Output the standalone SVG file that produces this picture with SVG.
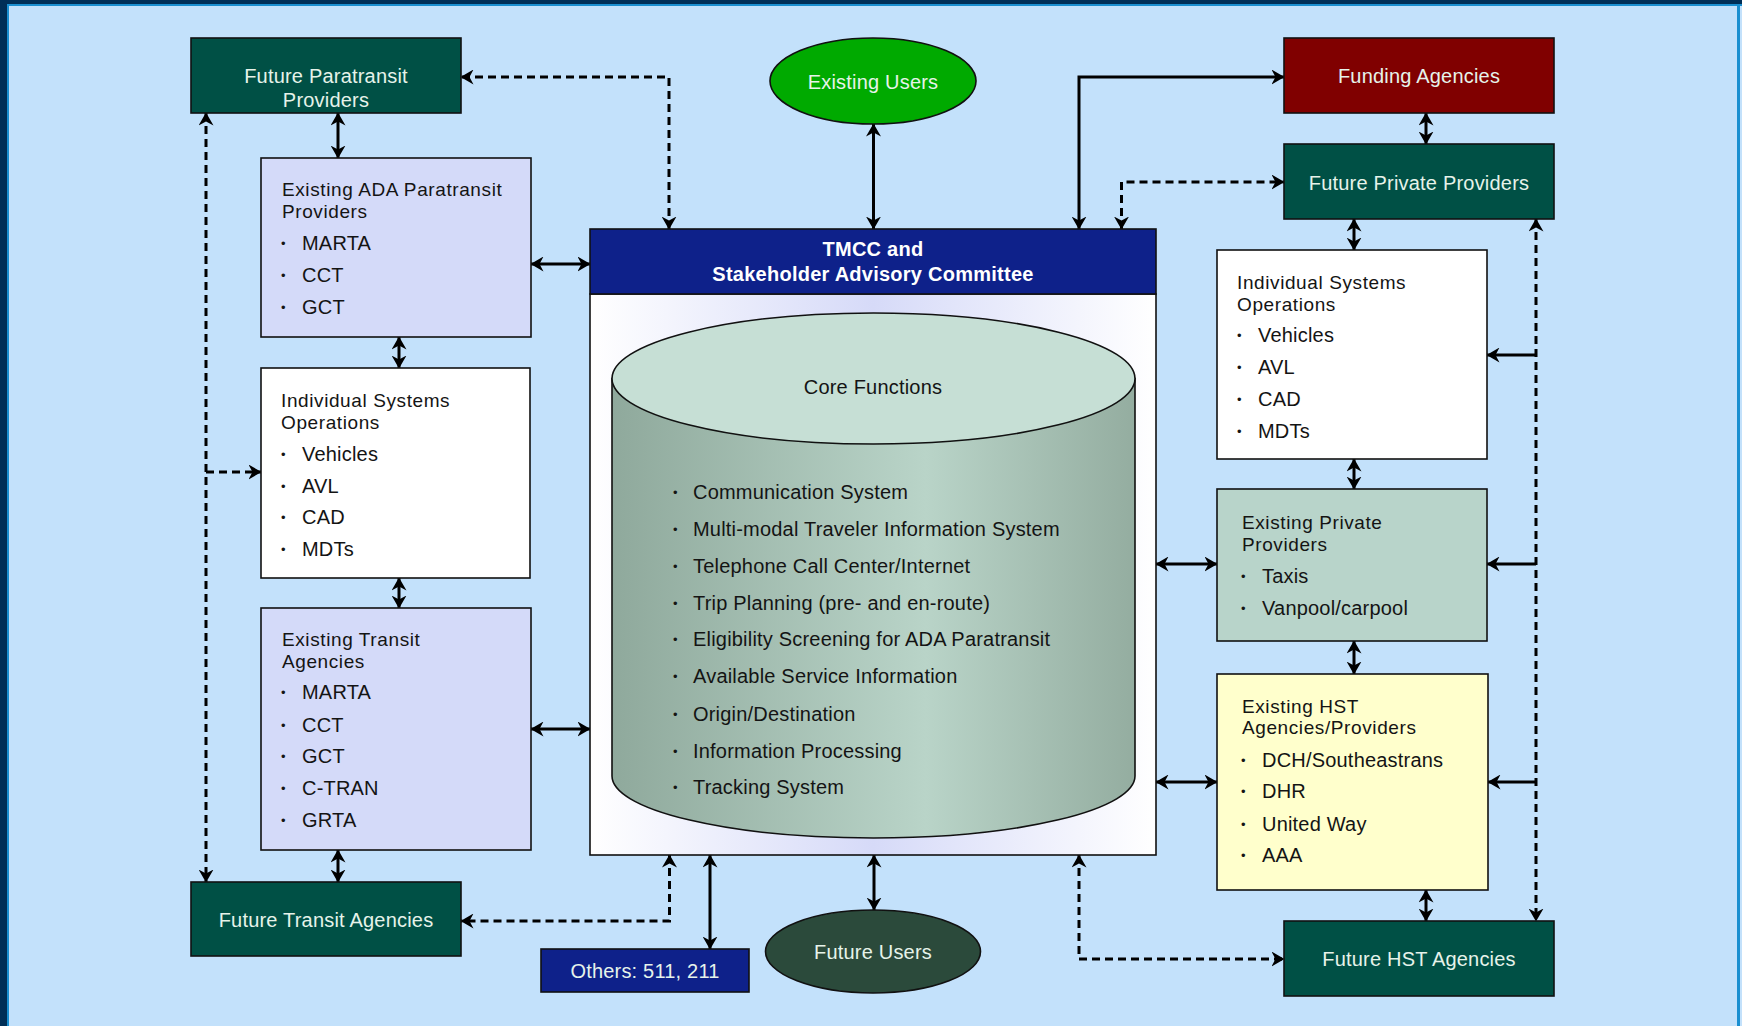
<svg xmlns="http://www.w3.org/2000/svg" width="1742" height="1026" viewBox="0 0 1742 1026">
<defs>
<style>
text{font-family:"Liberation Sans",Arial,sans-serif;font-size:20px;letter-spacing:0.2px;}
.lt{fill:#E6F3EA;text-anchor:middle;}
.dk{fill:#141414;}
.ttl{font-size:19px;letter-spacing:0.6px;}
.b{font-size:13px;}
.hd{fill:#FFFFFF;font-weight:bold;text-anchor:middle;letter-spacing:0.25px;}
.bx{stroke:#111;stroke-width:1.6;}
.c{fill:none;stroke:#000;stroke-width:3;marker-start:url(#ah);marker-end:url(#ah);}
.d{stroke-dasharray:8 5;}
.e{fill:none;stroke:#000;stroke-width:3;marker-end:url(#ah);}
</style>
<marker id="ah" viewBox="0 0 13 15" refX="12.5" refY="7.5" markerWidth="13" markerHeight="15" markerUnits="userSpaceOnUse" orient="auto-start-reverse">
<path d="M0,0 L13,7.5 L0,15 L4,7.5 Z" fill="#000"/>
</marker>
<linearGradient id="wg" x1="0" y1="0" x2="1" y2="0">
<stop offset="0" stop-color="#FFFFFF"/><stop offset="0.5" stop-color="#D6DAF8"/><stop offset="1" stop-color="#FFFFFF"/>
</linearGradient>
<linearGradient id="cg" x1="0" y1="0" x2="1" y2="0">
<stop offset="0" stop-color="#8FA99C"/><stop offset="0.6" stop-color="#B9D4C8"/><stop offset="1" stop-color="#94ADA0"/>
</linearGradient>
</defs>
<rect x="0" y="0" width="1742" height="1026" fill="#C3E1FB"/>
<rect x="0" y="0" width="7" height="1026" fill="#002F57"/>
<rect x="0" y="0" width="1742" height="4" fill="#002F57"/>
<rect x="7" y="4" width="2" height="1022" fill="#1A8FD0"/>
<rect x="7" y="4" width="1735" height="2" fill="#1A8FD0"/>
<rect x="1737" y="4" width="3" height="1022" fill="#1A8FD0"/>

<g id="connectors">
<line class="c" x1="338" y1="113" x2="338" y2="158"/>
<line class="c" x1="399" y1="337" x2="399" y2="368"/>
<line class="c" x1="399" y1="578" x2="399" y2="608"/>
<line class="c" x1="338" y1="850" x2="338" y2="882"/>
<line class="c" x1="531" y1="264" x2="590" y2="264"/>
<line class="c" x1="531" y1="729" x2="590" y2="729"/>
<line class="c d" x1="206" y1="113" x2="206" y2="882"/>
<path class="e d" d="M206,472 H261"/>
<path class="c d" d="M669,229 V77 H461"/>
<line class="c" x1="873.5" y1="124" x2="873.5" y2="229"/>
<path class="c" d="M1079,229 V77 H1284"/>
<path class="c d" d="M1121.5,229 V182 H1284"/>
<line class="c" x1="1426" y1="113" x2="1426" y2="144"/>
<line class="c" x1="1354" y1="219" x2="1354" y2="250"/>
<line class="c" x1="1354" y1="459" x2="1354" y2="489"/>
<line class="c" x1="1354" y1="641" x2="1354" y2="674"/>
<line class="c" x1="1426" y1="890" x2="1426" y2="921"/>
<line class="c d" x1="1536" y1="219" x2="1536" y2="921"/>
<path class="e" d="M1536,355 H1487"/>
<path class="e" d="M1536,564 H1487"/>
<path class="e" d="M1536,782 H1488"/>
<line class="c" x1="1156" y1="564" x2="1217" y2="564"/>
<line class="c" x1="1156" y1="782" x2="1217" y2="782"/>
<path class="c d" d="M669.5,855 V921 H461"/>
<line class="c" x1="710" y1="855" x2="710" y2="949"/>
<line class="c" x1="874" y1="855" x2="874" y2="910"/>
<path class="c d" d="M1079,855 V959 H1284"/>
</g>

<g id="future-paratransit">
<rect class="bx" x="191" y="38" width="270" height="75" fill="#005045"/>
<text class="lt" x="326" y="83">Future Paratransit</text>
<text class="lt" x="326" y="107">Providers</text>
</g>

<g id="existing-ada">
<rect class="bx" x="261" y="158" width="270" height="179" fill="#D4DAF9"/>
<text class="dk ttl" x="282" y="196">Existing ADA Paratransit</text>
<text class="dk ttl" x="282" y="218">Providers</text>
<text class="dk b" x="281" y="248">•</text><text class="dk" x="302" y="250">MARTA</text>
<text class="dk b" x="281" y="280">•</text><text class="dk" x="302" y="282">CCT</text>
<text class="dk b" x="281" y="312">•</text><text class="dk" x="302" y="314">GCT</text>
</g>

<g id="iso-left">
<rect class="bx" x="261" y="368" width="269" height="210" fill="#FFFFFF"/>
<text class="dk ttl" x="281" y="407">Individual Systems</text>
<text class="dk ttl" x="281" y="429">Operations</text>
<text class="dk b" x="281" y="459">•</text><text class="dk" x="302" y="461">Vehicles</text>
<text class="dk b" x="281" y="491">•</text><text class="dk" x="302" y="493">AVL</text>
<text class="dk b" x="281" y="522">•</text><text class="dk" x="302" y="524">CAD</text>
<text class="dk b" x="281" y="554">•</text><text class="dk" x="302" y="556">MDTs</text>
</g>

<g id="existing-transit">
<rect class="bx" x="261" y="608" width="270" height="242" fill="#D4DAF9"/>
<text class="dk ttl" x="282" y="646">Existing Transit</text>
<text class="dk ttl" x="282" y="668">Agencies</text>
<text class="dk b" x="281" y="697">•</text><text class="dk" x="302" y="699">MARTA</text>
<text class="dk b" x="281" y="730">•</text><text class="dk" x="302" y="732">CCT</text>
<text class="dk b" x="281" y="761">•</text><text class="dk" x="302" y="763">GCT</text>
<text class="dk b" x="281" y="793">•</text><text class="dk" x="302" y="795">C-TRAN</text>
<text class="dk b" x="281" y="825">•</text><text class="dk" x="302" y="827">GRTA</text>
</g>

<g id="future-transit">
<rect class="bx" x="191" y="882" width="270" height="74" fill="#005045"/>
<text class="lt" x="326" y="927">Future Transit Agencies</text>
</g>

<g id="existing-users">
<ellipse class="bx" cx="873" cy="81" rx="103" ry="43" fill="#00AA00"/>
<text class="lt" x="873" y="89" fill="#F0FFF0">Existing Users</text>
</g>

<g id="tmcc">
<rect class="bx" x="590" y="294" width="566" height="561" fill="url(#wg)"/>
<rect class="bx" x="590" y="229" width="566" height="65" fill="#0E218A"/>
<text class="hd" x="873" y="256">TMCC and</text>
<text class="hd" x="873" y="281">Stakeholder Advisory Committee</text>
</g>

<g id="core-functions">
<path class="bx" d="M612,378.5 L612,776 A261.5,62 0 0 0 1135,776 L1135,378.5 Z" fill="url(#cg)"/>
<ellipse class="bx" cx="873.5" cy="378.5" rx="261.5" ry="65.5" fill="#C6DFD5"/>
<text class="dk" x="873" y="394" text-anchor="middle">Core Functions</text>
<text class="dk b" x="673" y="497">•</text><text class="dk" x="693" y="499">Communication System</text>
<text class="dk b" x="673" y="534">•</text><text class="dk" x="693" y="536">Multi-modal Traveler Information System</text>
<text class="dk b" x="673" y="571">•</text><text class="dk" x="693" y="573">Telephone Call Center/Internet</text>
<text class="dk b" x="673" y="608">•</text><text class="dk" x="693" y="610">Trip Planning (pre- and en-route)</text>
<text class="dk b" x="673" y="644">•</text><text class="dk" x="693" y="646">Eligibility Screening for ADA Paratransit</text>
<text class="dk b" x="673" y="681">•</text><text class="dk" x="693" y="683">Available Service Information</text>
<text class="dk b" x="673" y="719">•</text><text class="dk" x="693" y="721">Origin/Destination</text>
<text class="dk b" x="673" y="756">•</text><text class="dk" x="693" y="758">Information Processing</text>
<text class="dk b" x="673" y="792">•</text><text class="dk" x="693" y="794">Tracking System</text>
</g>

<g id="others">
<rect class="bx" x="541" y="949" width="208" height="43" fill="#0E218A"/>
<text class="lt" x="645" y="978" fill="#FFFFFF">Others: 511, 211</text>
</g>

<g id="future-users">
<ellipse class="bx" cx="873" cy="951.5" rx="107.5" ry="41.5" fill="#2B4A3B"/>
<text class="lt" x="873" y="959">Future Users</text>
</g>

<g id="funding-agencies">
<rect class="bx" x="1284" y="38" width="270" height="75" fill="#800000"/>
<text class="lt" x="1419" y="83" fill="#F5E6E6">Funding Agencies</text>
</g>

<g id="future-private">
<rect class="bx" x="1284" y="144" width="270" height="75" fill="#005045"/>
<text class="lt" x="1419" y="190">Future Private Providers</text>
</g>

<g id="iso-right">
<rect class="bx" x="1217" y="250" width="270" height="209" fill="#FFFFFF"/>
<text class="dk ttl" x="1237" y="289">Individual Systems</text>
<text class="dk ttl" x="1237" y="311">Operations</text>
<text class="dk b" x="1237" y="340">•</text><text class="dk" x="1258" y="342">Vehicles</text>
<text class="dk b" x="1237" y="372">•</text><text class="dk" x="1258" y="374">AVL</text>
<text class="dk b" x="1237" y="404">•</text><text class="dk" x="1258" y="406">CAD</text>
<text class="dk b" x="1237" y="436">•</text><text class="dk" x="1258" y="438">MDTs</text>
</g>

<g id="existing-private">
<rect class="bx" x="1217" y="489" width="270" height="152" fill="#B8D4CA"/>
<text class="dk ttl" x="1242" y="529">Existing Private</text>
<text class="dk ttl" x="1242" y="551">Providers</text>
<text class="dk b" x="1241" y="581">•</text><text class="dk" x="1262" y="583">Taxis</text>
<text class="dk b" x="1241" y="613">•</text><text class="dk" x="1262" y="615">Vanpool/carpool</text>
</g>

<g id="existing-hst">
<rect class="bx" x="1217" y="674" width="271" height="216" fill="#FFFFCC"/>
<text class="dk ttl" x="1242" y="713">Existing HST</text>
<text class="dk ttl" x="1242" y="734">Agencies/Providers</text>
<text class="dk b" x="1241" y="765">•</text><text class="dk" x="1262" y="767">DCH/Southeastrans</text>
<text class="dk b" x="1241" y="796">•</text><text class="dk" x="1262" y="798">DHR</text>
<text class="dk b" x="1241" y="829">•</text><text class="dk" x="1262" y="831">United Way</text>
<text class="dk b" x="1241" y="860">•</text><text class="dk" x="1262" y="862">AAA</text>
</g>

<g id="future-hst">
<rect class="bx" x="1284" y="921" width="270" height="75" fill="#005045"/>
<text class="lt" x="1419" y="966">Future HST Agencies</text>
</g>
</svg>
